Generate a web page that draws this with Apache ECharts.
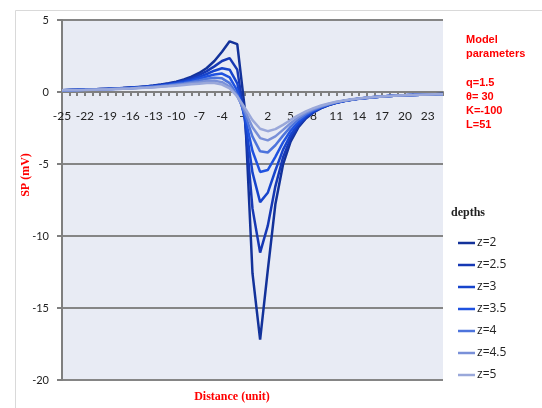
<!DOCTYPE html>
<html>
<head>
<meta charset="utf-8">
<script src="https://cdn.jsdelivr.net/npm/echarts@6/dist/echarts.min.js"></script>
<style>
html,body{margin:0;padding:0;background:#fff;}
#chart{width:542px;height:408px;}
</style>
</head>
<body>
<div id="chart"></div>
<script>
// Distance categories (unit)
const categories = ['-25','-24','-23','-22','-21','-20','-19','-18','-17','-16','-15','-14','-13','-12','-11','-10','-9','-8','-7','-6','-5','-4','-3','-2','-1','0','1','2','3','4','5','6','7','8','9','10','11','12','13','14','15','16','17','18','19','20','21','22','23','24','25'];
const seriesNames = ['z=2','z=2.5','z=3','z=3.5','z=4','z=4.5','z=5'];
const yTicks = [-20, -15, -10, -5, 0, 5];

// SP values (mV), x = -25 .. 25
const z2  = [0.13,0.14,0.15,0.17,0.18,0.20,0.22,0.25,0.27,0.31,0.35,0.39,0.45,0.52,0.61,0.72,0.87,1.06,1.32,1.67,2.15,2.80,3.52,3.32,-1.2,
             -12.6,-17.2,-12.4,-7.8,-5.05,-3.45,-2.47,-1.84,-1.42,-1.12,-0.91,-0.75,-0.63,-0.54,-0.46,-0.40,-0.35,-0.31,-0.28,-0.25,-0.23,-0.20,-0.19,-0.17,-0.16,-0.14];
const z25 = [0.13,0.14,0.15,0.16,0.18,0.20,0.22,0.24,0.27,0.30,0.33,0.38,0.43,0.50,0.58,0.68,0.80,0.96,1.18,1.45,1.78,2.15,2.35,1.55,-1.9,
             -8.1,-11.15,-9.3,-6.55,-4.55,-3.22,-2.36,-1.79,-1.39,-1.11,-0.91,-0.75,-0.63,-0.54,-0.47,-0.41,-0.36,-0.32,-0.28,-0.25,-0.23,-0.21,-0.19,-0.17,-0.16,-0.14];
const z3  = [0.13,0.14,0.15,0.16,0.18,0.19,0.21,0.23,0.26,0.29,0.32,0.36,0.41,0.47,0.54,0.63,0.74,0.87,1.05,1.25,1.48,1.65,1.55,0.6,-1.9,
             -5.6,-7.65,-7.0,-5.45,-4.02,-2.97,-2.23,-1.72,-1.36,-1.09,-0.89,-0.74,-0.63,-0.54,-0.46,-0.41,-0.36,-0.32,-0.28,-0.25,-0.23,-0.21,-0.19,-0.17,-0.16,-0.15];
const z35 = [0.12,0.13,0.14,0.16,0.17,0.19,0.20,0.22,0.25,0.28,0.31,0.35,0.39,0.44,0.51,0.59,0.68,0.79,0.92,1.08,1.22,1.28,1.02,0.1,-1.7,
             -4.1,-5.55,-5.42,-4.5,-3.5,-2.69,-2.08,-1.63,-1.30,-1.06,-0.88,-0.73,-0.62,-0.53,-0.46,-0.40,-0.36,-0.32,-0.28,-0.25,-0.23,-0.21,-0.19,-0.17,-0.16,-0.15];
const z4  = [0.12,0.13,0.14,0.15,0.17,0.18,0.20,0.22,0.24,0.26,0.29,0.33,0.37,0.41,0.47,0.54,0.61,0.70,0.80,0.92,0.99,0.95,0.62,-0.2,-1.5,
             -3.1,-4.12,-4.2,-3.7,-3.03,-2.42,-1.92,-1.54,-1.25,-1.03,-0.85,-0.72,-0.61,-0.53,-0.46,-0.40,-0.35,-0.31,-0.28,-0.25,-0.23,-0.21,-0.19,-0.17,-0.16,-0.15];
const z45 = [0.12,0.13,0.14,0.15,0.16,0.17,0.19,0.21,0.23,0.25,0.28,0.31,0.35,0.39,0.43,0.49,0.55,0.62,0.68,0.76,0.78,0.68,0.38,-0.3,-1.3,
             -2.45,-3.2,-3.36,-3.08,-2.63,-2.17,-1.77,-1.44,-1.19,-0.99,-0.83,-0.70,-0.60,-0.52,-0.45,-0.40,-0.35,-0.31,-0.28,-0.25,-0.23,-0.21,-0.19,-0.17,-0.16,-0.15];
const z5  = [0.12,0.12,0.13,0.14,0.16,0.17,0.18,0.20,0.22,0.24,0.27,0.29,0.32,0.36,0.40,0.44,0.49,0.54,0.58,0.62,0.62,0.52,0.25,-0.3,-1.1,
             -1.95,-2.55,-2.72,-2.58,-2.28,-1.94,-1.62,-1.35,-1.12,-0.94,-0.80,-0.68,-0.59,-0.51,-0.45,-0.39,-0.35,-0.31,-0.28,-0.25,-0.23,-0.21,-0.19,-0.17,-0.16,-0.15];

const allData = [z2, z25, z3, z35, z4, z45, z5];
const colors = ['#13329A','#1638B4','#1744CC','#1F52E0','#4D74DC','#7990D8','#9AA8DA'];

const chart = echarts.init(document.getElementById('chart'), null, {renderer:'canvas'});
const axisGray = '#7F7F7F';
const gridTop = 20, gridBottom = 28, chartH = 408;
const yMin = yTicks[0], yMax = yTicks[yTicks.length-1];
// move the category axis up to the zero line of the value axis
const plotH = chartH - gridTop - gridBottom;
const zeroOffset = -plotH * (0 - yMin) / (yMax - yMin);

const option = {
  animation: false,
  backgroundColor: '#ffffff',
  color: colors,
  grid: {left: 62, right: 99, top: gridTop, bottom: gridBottom, show: true, backgroundColor: '#E8EBF4', borderWidth: 0, containLabel: false},
  xAxis: {
    type: 'category',
    data: categories,
    boundaryGap: false,
    position: 'bottom',
    offset: zeroOffset,
    axisLine: {show: true, onZero: false, lineStyle: {color: axisGray, width: 2}},
    axisTick: {show: true, interval: 0, length: 4, lineStyle: {color: axisGray, width: 2}},
    axisLabel: {interval: 2, margin: 18, fontFamily: 'Lato', fontSize: 12, color: '#222'},
    splitLine: {show: false}
  },
  yAxis: {
    type: 'value',
    min: yMin, max: yMax, interval: 5,
    axisLine: {show: true, lineStyle: {color: axisGray, width: 2}},
    axisTick: {show: true, length: 5, lineStyle: {color: axisGray, width: 2}},
    axisLabel: {margin: 13, fontFamily: 'Lato', fontSize: 11, color: '#222'},
    splitLine: {show: true, lineStyle: {color: '#858585', width: 2}}
  },
  legend: {
    orient: 'vertical',
    left: 453, top: 232,
    itemWidth: 17, itemHeight: 14, itemGap: 10,
    icon: 'path://M0,0H17V2.5H0Z',
    data: seriesNames,
    textStyle: {fontFamily: 'Open Sans', fontSize: 12, color: '#222', padding: [0,0,0,-3]}
  },
  series: seriesNames.map((n, i) => ({
    name: n, type: 'line', data: allData[i],
    symbol: 'none', smooth: false,
    lineStyle: {width: 2.5, color: colors[i]},
    itemStyle: {color: colors[i]}
  })),
  graphic: [
    {type: 'rect', left: 13, top: 8, shape: {width: 600, height: 500}, style: {fill: 'none', stroke: '#D9D9D9', lineWidth: 1}, silent: true, z: -10},
    {type: 'text', x: 26, y: 175, rotation: Math.PI/2, style: {text: 'SP (mV)', font: 'bold 12px "Liberation Serif"', fill: '#FF0000', align: 'center', verticalAlign: 'middle'}},
    {type: 'text', x: 232, y: 397, style: {text: 'Distance (unit)', font: 'bold 12px "Liberation Serif"', fill: '#FF0000', align: 'center', verticalAlign: 'middle'}},
    {type: 'text', x: 466, y: 40, style: {text: 'Model', font: 'bold 11px "Liberation Sans"', fill: '#FF0000', verticalAlign: 'middle'}},
    {type: 'text', x: 466, y: 54, style: {text: 'parameters', font: 'bold 11px "Liberation Sans"', fill: '#FF0000', verticalAlign: 'middle'}},
    {type: 'text', x: 466, y: 83, style: {text: 'q=1.5', font: 'bold 11px "Liberation Sans"', fill: '#FF0000', verticalAlign: 'middle'}},
    {type: 'text', x: 466, y: 97, style: {text: 'θ= 30', font: 'bold 11px "Liberation Sans"', fill: '#FF0000', verticalAlign: 'middle'}},
    {type: 'text', x: 466, y: 111, style: {text: 'K=-100', font: 'bold 11px "Liberation Sans"', fill: '#FF0000', verticalAlign: 'middle'}},
    {type: 'text', x: 466, y: 125, style: {text: 'L=51', font: 'bold 11px "Liberation Sans"', fill: '#FF0000', verticalAlign: 'middle'}},
    {type: 'text', x: 451, y: 213, style: {text: 'depths', font: 'bold 12px "Liberation Serif"', fill: '#222', verticalAlign: 'middle'}}
  ]
};
chart.setOption(option);
</script>
</body>
</html>
